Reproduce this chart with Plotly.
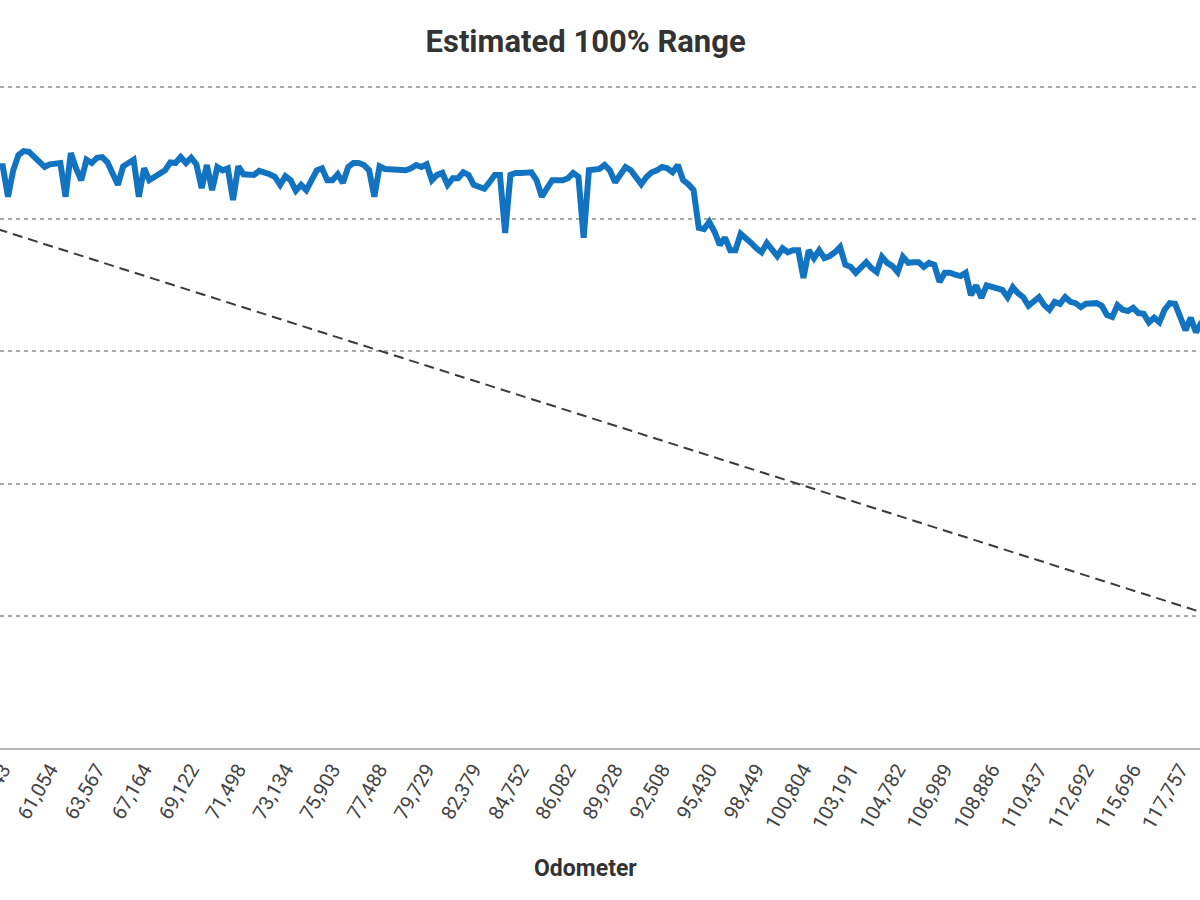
import plotly.graph_objects as go

# Estimated 100% range readings (one per log entry, in chart order)
range_values = [
    228.0, 228.0, 223.4, 227.4, 229.7, 230.3, 230.2, 229.4, 228.6, 227.9,
    228.3, 228.5, 228.5, 223.4, 230.0, 227.7, 225.9, 229.0, 228.5, 229.3,
    229.4, 228.6, 227.1, 225.2, 228.0, 228.5, 229.0, 223.4, 227.7, 225.9,
    226.4, 226.7, 227.4, 228.6, 228.5, 229.4, 228.5, 229.3, 228.3, 224.7,
    228.2, 224.4, 227.9, 227.4, 227.7, 222.9, 228.0, 226.8, 226.7, 226.7,
    227.3, 227.1, 226.8, 226.4, 225.2, 226.5, 225.9, 224.3, 225.2, 224.4,
    225.9, 227.4, 227.7, 225.9, 225.9, 226.8, 225.5, 227.9, 228.5, 228.5,
    228.2, 227.4, 223.4, 228.0, 227.6, 227.6, 227.6, 227.4, 227.4, 227.7,
    228.2, 227.9, 228.3, 225.9, 226.7, 227.0, 225.2, 226.2, 226.2, 227.1,
    226.7, 225.2, 224.9, 224.6, 225.6, 226.7, 226.7, 217.9, 226.7, 227.0,
    227.0, 227.0, 227.1, 225.9, 223.4, 224.7, 225.9, 225.9, 225.9, 226.2,
    227.0, 226.4, 217.2, 227.4, 227.4, 227.6, 228.2, 227.4, 225.6, 226.8,
    227.9, 227.4, 226.2, 225.3, 226.4, 227.1, 227.4, 227.9, 227.7, 227.1,
    228.2, 225.9, 225.3, 224.4, 218.7, 218.5, 219.6, 218.1, 216.1, 217.2,
    215.3, 215.3, 217.8, 217.2, 216.4, 215.6, 215.0, 216.4, 215.3, 214.4,
    215.6, 215.0, 215.3, 215.3, 211.1, 215.3, 214.1, 215.3, 214.1, 214.4,
    215.0, 215.8, 213.1, 212.8, 211.9, 212.8, 213.5, 212.6, 212.0, 214.3,
    213.4, 212.9, 212.0, 214.3, 213.4, 213.5, 213.5, 212.8, 213.4, 213.1,
    210.5, 211.9, 211.9, 211.6, 211.4, 211.9, 208.5, 210.0, 208.1, 210.0,
    209.7, 209.6, 209.3, 208.2, 209.7, 208.8, 208.2, 206.9, 207.5, 208.2,
    207.0, 206.3, 207.5, 207.2, 208.2, 207.5, 207.3, 206.7, 207.2, 207.3,
    207.3, 206.9, 205.5, 205.2, 207.0, 206.3, 206.1, 206.6, 205.8, 205.7,
    204.4, 205.1, 204.4, 206.3, 207.3, 207.2, 205.2, 203.2, 205.1, 202.9,
    204.3, 204.8,
]

# Dashed reference (trend) line: value at the first and last entry
trend_values = [218.5, 160.3]

# Odometer labels shown on the axis (every 9th entry)
odometer_labels = [
    "58,743", "61,054", "63,567", "67,164", "69,122", "71,498", "73,134",
    "75,903", "77,488", "79,729", "82,379", "84,752", "86,082", "89,928",
    "92,508", "95,430", "98,449", "100,804", "103,191", "104,782", "106,989",
    "108,886", "110,437", "112,692", "115,696", "117,757",
]

LABEL_STEP = 9
LABEL_START = 1

n = len(range_values)
xs = list(range(n))
tickvals = [LABEL_START + LABEL_STEP * k for k in range(len(odometer_labels))]

fig = go.Figure()
fig.add_trace(go.Scatter(
    x=[0, n - 1], y=trend_values, mode="lines",
    line=dict(color="#3a3a3a", width=2, dash="10px,6px"),
    hoverinfo="skip", showlegend=False,
))
fig.add_trace(go.Scatter(
    x=xs, y=range_values, mode="lines",
    line=dict(color="#1273c0", width=6),
    showlegend=False,
))

fig.update_layout(
    width=1200, height=900,
    margin=dict(l=0, r=0, t=84, b=152, autoexpand=False),
    paper_bgcolor="white", plot_bgcolor="white",
    font=dict(family="Roboto", color="#444444"),
    title=dict(
        text="<b>Estimated 100% Range</b>",
        x=0.488, xref="container", xanchor="center",
        y=1 - 41 / 900, yref="container", yanchor="middle",
        font=dict(family="Roboto", size=31, color="#333333"),
    ),
    annotations=[dict(
        text="<b>Odometer</b>", xref="paper", yref="paper",
        x=0.488, y=-(868 - 748) / 664, xanchor="center", yanchor="middle",
        showarrow=False, font=dict(family="Roboto", size=23, color="#333333"),
    )],
)

fig.update_xaxes(
    range=[0.471, 229.77],
    tickmode="array", tickvals=tickvals, ticktext=odometer_labels,
    tickangle=-60, ticks="", showgrid=False, zeroline=False,
    showline=True, linecolor="#b4b4b4", linewidth=2,
    tickfont=dict(family="Roboto", size=20, color="#444444"),
    ticklabeloverflow="allow",
    automargin=False,
)
fig.update_yaxes(
    range=[140, 240.454], dtick=20, tick0=0,
    showticklabels=False, ticks="", zeroline=False, showline=False,
    showgrid=True, gridcolor="#a8a8a8", gridwidth=1.5, griddash="4px,4px",
    automargin=False,
)

fig.write_html(
    "out.html",
    config={"displayModeBar": False},
    post_script="document.body.style.margin='0';document.body.style.overflow='hidden';",
)
